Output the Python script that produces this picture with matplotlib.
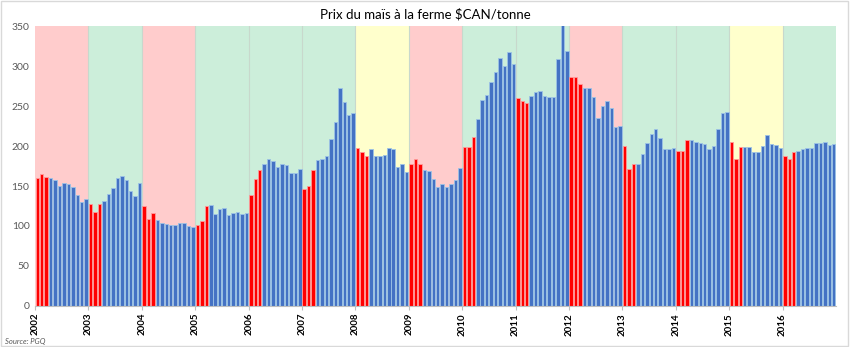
import numpy as np
import matplotlib.pyplot as plt
from matplotlib.patches import Rectangle

years = list(range(2002, 2017))

# prix mensuels ($CAN/tonne), janvier à décembre
prix = [
    160, 165, 161, 160, 157, 150, 154, 152, 149, 139, 130, 134,   # 2002
    127, 117, 128, 131, 140, 147, 160, 163, 158, 144, 137, 154,   # 2003
    125, 109, 116, 108, 104, 103, 101, 101, 104, 104, 100, 99,    # 2004
    101, 106, 125, 126, 115, 121, 122, 114, 116, 118, 115, 116,   # 2005
    139, 159, 170, 177, 184, 181, 174, 177, 176, 166, 166, 171,   # 2006
    146, 150, 170, 182, 184, 188, 209, 230, 273, 255, 239, 241,   # 2007
    197, 192, 188, 196, 187, 188, 189, 198, 196, 174, 178, 167,   # 2008
    178, 184, 178, 170, 169, 159, 149, 153, 149, 152, 157, 172,   # 2009
    199, 199, 211, 234, 258, 264, 280, 292, 310, 300, 317, 303,   # 2010
    260, 256, 254, 263, 268, 269, 263, 261, 261, 309, 352, 319,   # 2011
    286, 286, 277, 273, 272, 261, 235, 250, 256, 248, 224, 225,   # 2012
    200, 171, 178, 178, 190, 204, 215, 221, 210, 196, 196, 198,   # 2013
    194, 194, 208, 208, 205, 204, 203, 196, 200, 221, 241, 243,   # 2014
    205, 184, 199, 199, 199, 192, 193, 200, 214, 203, 201, 197,   # 2015
    188, 184, 192, 194, 196, 198, 197, 204, 204, 205, 201, 203,   # 2016
]

# couleur de fond par année
fond = ["r", "g", "r", "g", "g", "g", "y", "r", "g", "g", "r", "g", "g", "y", "g"]
fond_couleurs = {"r": "#FFCCCC", "g": "#CCEEDA", "y": "#FFFFCC"}

plt.rcParams["font.family"] = ["Lato", "DejaVu Sans"]

fig = plt.figure(figsize=(8.5, 3.47), dpi=100)
fig.patches.append(Rectangle((0.001, 0.002), 0.997, 0.995, transform=fig.transFigure,
                             fill=False, edgecolor="#D9D9D9", linewidth=1))
ax = fig.add_axes([0.0412, 0.1182, 0.9423, 0.8068])

for k, c in enumerate(fond):
    ax.axvspan(12 * k, 12 * (k + 1), color=fond_couleurs[c], zorder=0, lw=0)
    if k > 0:
        ax.axvline(12 * k, color="#C8D8CC", lw=0.8, zorder=0.5)

x = np.arange(len(prix)) + 0.5
couleurs = ["#FF0000" if i % 12 < 3 else "#4472C4" for i in range(len(prix))]
bords = ["#FF9A9A" if i % 12 < 3 else "#9DC3E6" for i in range(len(prix))]
ax.bar(x, prix, width=0.78, color=couleurs, edgecolor=bords, linewidth=0.6, zorder=2)

ax.set_xlim(0, 180)
ax.set_ylim(0, 350)
ax.set_yticks(range(0, 351, 50))
ax.set_xticks([12 * k for k in range(len(years))])
ax.set_xticklabels([str(a) for a in years], rotation=90, fontsize=7, fontweight="bold")
ax.tick_params(axis="y", length=0, labelsize=7.5, labelcolor="#595959", pad=4)
ax.tick_params(axis="x", length=3, color="#BFBFBF", pad=2)

for s in ["top", "right", "left"]:
    ax.spines[s].set_visible(False)
ax.spines["bottom"].set_color("#BFBFBF")

fig.text(0.5, 0.96, r"Prix du maïs à la ferme \$CAN/tonne", ha="center", va="center",
         fontsize=9.5)
fig.text(0.006, 0.01, "Source: PGQ", fontsize=5.5, style="italic", color="#595959")

plt.savefig("out.png", dpi=100)
